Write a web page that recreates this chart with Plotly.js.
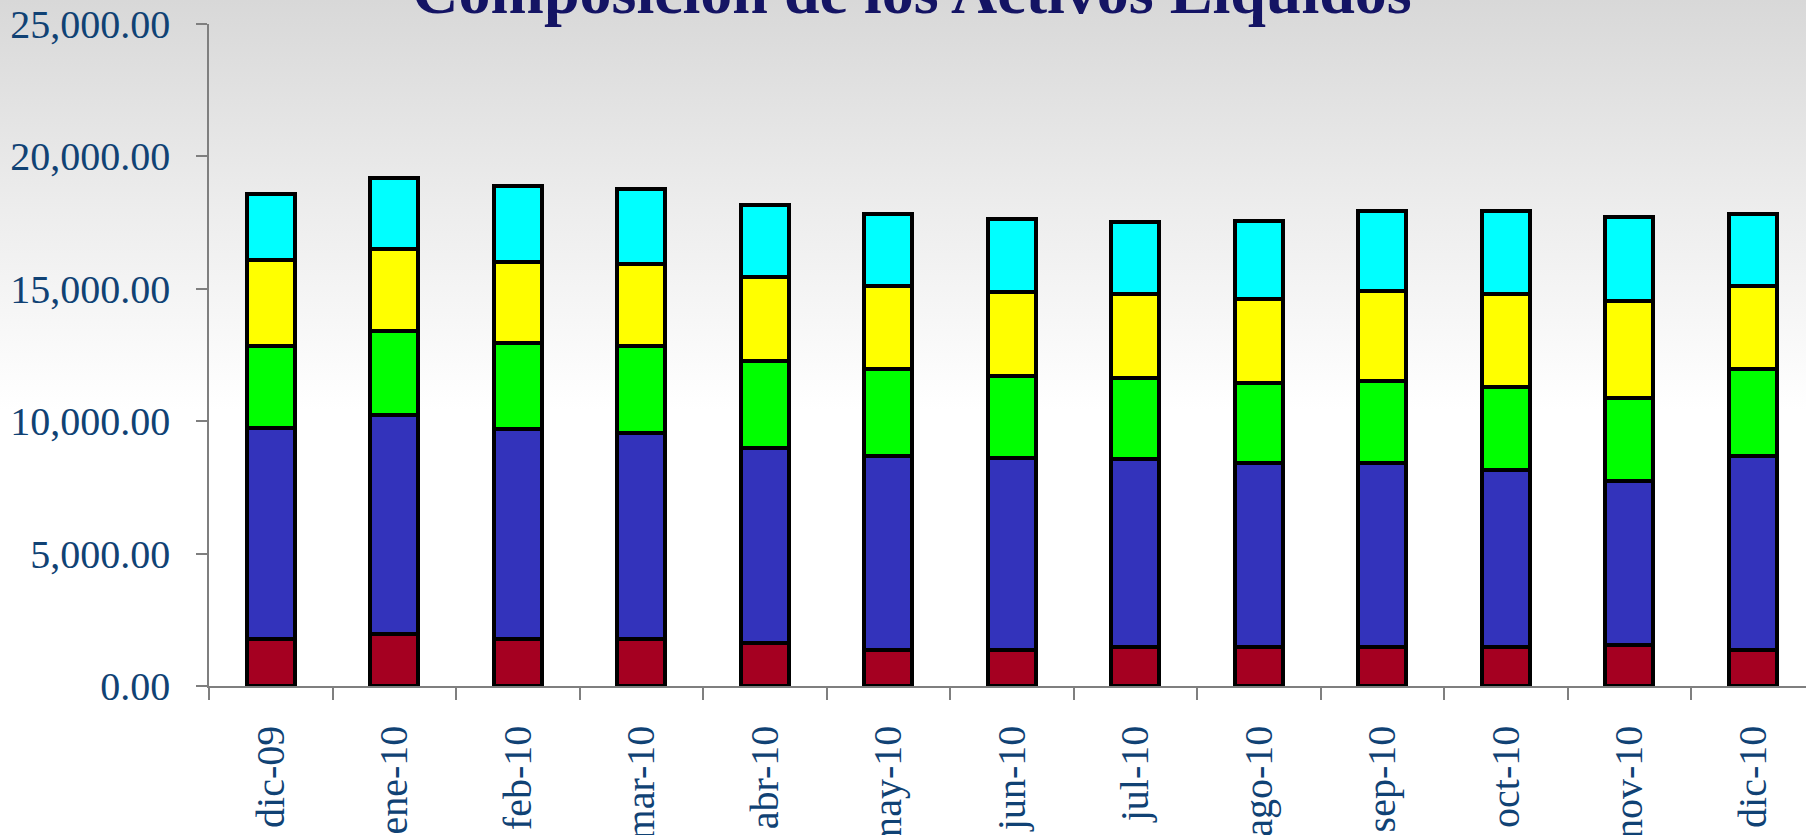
<!DOCTYPE html>
<html>
<head>
<meta charset="utf-8">
<script src="https://cdn.plot.ly/plotly-3.0.1.min.js"></script>
<style>
  html, body { margin: 0; padding: 0; overflow: hidden; }
  body { width: 1806px; height: 835px;
         background: linear-gradient(to bottom, #d8d8d8 0px, #ececec 200px, #ffffff 410px, #ffffff 835px); }
  #chart { width: 1806px; height: 835px; }
</style>
</head>
<body>
<div id="chart"></div>
<script>
// Categories (months)
const categories = ["dic-09","ene-10","feb-10","mar-10","abr-10","may-10","jun-10","jul-10","ago-10","sep-10","oct-10","nov-10","dic-10"];

// Series values (stacked from bottom to top)
const serieRoja     = [1776, 1950, 1776, 1776, 1629, 1345, 1372, 1485, 1485, 1485, 1485, 1549, 1353];
const serieAzul     = [7966, 8284, 7929, 7766, 7346, 7332, 7256, 7090, 6920, 6920, 6666, 6206, 7327];
const serieVerde    = [3088, 3181, 3257, 3288, 3314, 3299, 3098, 3049, 3023, 3129, 3141, 3140, 3277];
const serieAmarilla = [3250, 3088, 3065, 3091, 3152, 3125, 3137, 3182, 3178, 3378, 3514, 3647, 3155];
const serieCian     = [2517, 2676, 2849, 2861, 2717, 2709, 2759, 2717, 2955, 3008, 3114, 3155, 2717];

const yTicks = [0, 5000, 10000, 15000, 20000, 25000];

const series = [
  {name: "Serie 1", values: serieRoja,     color: "#a50021"},
  {name: "Serie 2", values: serieAzul,     color: "#3333bb"},
  {name: "Serie 3", values: serieVerde,    color: "#00ff00"},
  {name: "Serie 4", values: serieAmarilla, color: "#ffff00"},
  {name: "Serie 5", values: serieCian,     color: "#00ffff"}
];

const traces = series.map(s => ({
  type: "bar",
  name: s.name,
  x: categories,
  y: s.values,
  marker: {color: s.color, line: {color: "#000000", width: 4}},
  hoverinfo: "x+y+name"
}));

const labelColor = "#104274";

const layout = {
  width: 1806,
  height: 835,
  barmode: "stack",
  bargap: 0.61,
  showlegend: false,
  paper_bgcolor: "rgba(0,0,0,0)",
  plot_bgcolor: "rgba(0,0,0,0)",
  margin: {l: 209, r: 0, t: 24, b: 149, pad: 0},
  title: {
    text: "<b>Composición de los Activos Líquidos</b>",
    font: {family: "Liberation Serif", size: 64, color: "#141464"},
    xref: "container", x: 0.505, xanchor: "center",
    yref: "container", y: 0.9848, yanchor: "bottom"
  },
  xaxis: {
    type: "category",
    range: [-0.5, 12.43],
    tickangle: -90,
    tickson: "boundaries",
    ticks: "outside",
    ticklen: 12,
    tickwidth: 1.5,
    tickcolor: "#7f7f7f",
    showline: true,
    linecolor: "#7f7f7f",
    linewidth: 1.5,
    showgrid: false,
    zeroline: false,
    ticklabelstandoff: 22,
    tickfont: {family: "Liberation Serif", size: 40, color: labelColor}
  },
  yaxis: {
    range: [0, 25000],
    tickvals: yTicks,
    tickformat: ",.2f",
    ticks: "outside",
    ticklen: 11,
    tickwidth: 1.5,
    tickcolor: "#7f7f7f",
    showline: true,
    linecolor: "#7f7f7f",
    linewidth: 1.5,
    showgrid: false,
    zeroline: false,
    ticklabelstandoff: 18,
    tickfont: {family: "Liberation Serif", size: 40, color: labelColor}
  }
};

Plotly.newPlot("chart", traces, layout, {displayModeBar: false, responsive: false});
</script>
</body>
</html>
